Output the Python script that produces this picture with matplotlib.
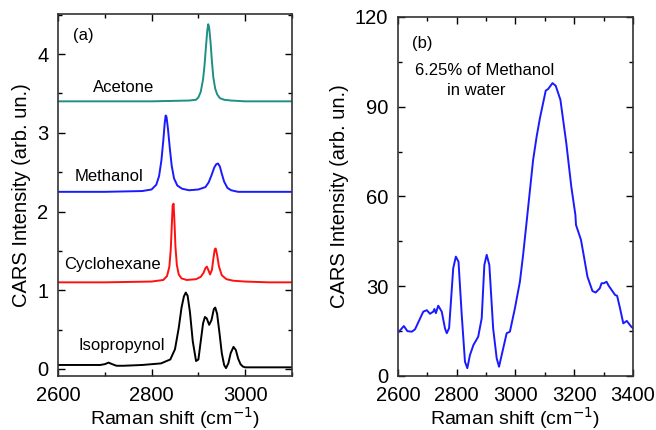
import numpy as np
import matplotlib.pyplot as plt
from matplotlib.ticker import MultipleLocator

plt.rcParams['font.family'] = ['Liberation Sans', 'DejaVu Sans']

# panel (a): CARS spectra of pure liquids
acetone_x = [2600, 2700, 2800, 2880, 2895, 2900, 2905, 2910, 2913, 2916, 2919, 2921, 2923,
             2926, 2929, 2932, 2936, 2940, 2946, 2955, 2970, 3000, 3050, 3100]
acetone_y = [3.40, 3.40, 3.40, 3.41, 3.42, 3.45, 3.52, 3.68, 3.85, 4.08, 4.30, 4.38, 4.34,
             4.15, 3.90, 3.70, 3.56, 3.49, 3.44, 3.42, 3.41, 3.40, 3.40, 3.40]

methanol_x = [2600, 2700, 2780, 2800, 2810, 2816, 2821, 2825, 2828, 2830, 2832, 2835, 2839,
              2843, 2848, 2855, 2865, 2880, 2900, 2915, 2922, 2928, 2934, 2938, 2942, 2946,
              2950, 2955, 2962, 2970, 2985, 3000, 3050, 3100]
methanol_y = [2.25, 2.25, 2.26, 2.28, 2.34, 2.45, 2.65, 2.90, 3.12, 3.22, 3.20, 3.05, 2.80,
              2.58, 2.42, 2.33, 2.29, 2.27, 2.28, 2.31, 2.37, 2.46, 2.56, 2.60, 2.61, 2.57,
              2.48, 2.38, 2.30, 2.27, 2.25, 2.25, 2.25, 2.25]

cyclo_x = [2600, 2700, 2800, 2825, 2833, 2838, 2841, 2843, 2845, 2847, 2849, 2851, 2854,
           2858, 2864, 2875, 2895, 2905, 2911, 2915, 2918, 2921, 2925, 2929, 2932, 2935,
           2937, 2940, 2944, 2950, 2960, 2975, 3000, 3050, 3100]
cyclo_y = [1.10, 1.10, 1.11, 1.13, 1.18, 1.30, 1.52, 1.80, 2.08, 2.10, 1.85, 1.55, 1.32,
           1.20, 1.15, 1.13, 1.14, 1.17, 1.22, 1.28, 1.30, 1.26, 1.20, 1.26, 1.40, 1.52,
           1.53, 1.45, 1.30, 1.19, 1.14, 1.12, 1.11, 1.10, 1.10]

iso_x = [2600, 2650, 2690, 2700, 2708, 2716, 2725, 2740, 2780, 2820, 2840, 2850, 2858,
         2864, 2869, 2873, 2877, 2882, 2888, 2895, 2900, 2905, 2910, 2914, 2918, 2923,
         2928, 2933, 2936, 2940, 2945, 2950, 2955, 2959, 2964, 2969, 2975, 2980, 2985,
         2990, 2995, 3000, 3020, 3050, 3100]
iso_y = [0.05, 0.05, 0.05, 0.06, 0.08, 0.06, 0.04, 0.04, 0.05, 0.07, 0.12, 0.25, 0.52,
         0.78, 0.92, 0.97, 0.93, 0.72, 0.35, 0.10, 0.12, 0.35, 0.58, 0.66, 0.64, 0.56,
         0.62, 0.76, 0.78, 0.70, 0.46, 0.20, 0.05, 0.01, 0.07, 0.20, 0.28, 0.24, 0.13,
         0.06, 0.03, 0.02, 0.02, 0.02, 0.02]

# panel (b): 6.25% methanol in water
mix_x = [2603, 2620, 2632, 2647, 2658, 2686, 2698, 2709, 2720, 2724, 2729, 2737, 2749,
         2760, 2766, 2774, 2788, 2797, 2806, 2817, 2828, 2836, 2845, 2857, 2873, 2885,
         2894, 2902, 2911, 2924, 2936, 2944, 2953, 2970, 2981, 2998, 3015, 3026, 3038,
         3041, 3060, 3072, 3083, 3103, 3111, 3126, 3137, 3153, 3173, 3190, 3204, 3206,
         3223, 3234, 3245, 3262, 3273, 3287, 3293, 3301, 3310, 3317, 3339, 3346, 3356,
         3367, 3379, 3394, 3400]
mix_y = [14.8, 16.7, 15.0, 14.8, 15.6, 21.5, 22.0, 20.8, 21.5, 22.4, 21.0, 23.5, 21.5,
         15.9, 14.3, 16.0, 36.0, 39.9, 38.2, 20.4, 4.8, 2.6, 7.0, 10.4, 13.1, 19.3,
         37.1, 40.5, 37.1, 15.9, 5.9, 3.1, 7.0, 14.3, 14.8, 22.6, 31.5, 40.5, 51.6,
         54.4, 72.2, 80.0, 86.1, 95.4, 95.9, 97.9, 97.0, 92.3, 77.8, 63.3, 53.8, 50.5,
         45.5, 39.4, 33.2, 28.4, 27.9, 29.3, 31.0, 31.0, 31.5, 30.2, 27.1, 26.8, 22.6,
         17.6, 18.4, 16.5, 16.0]

fig = plt.figure(figsize=(6.56, 4.3), dpi=100)
ax1 = fig.add_axes([0.0884, 0.1256, 0.3567, 0.8419])
ax2 = fig.add_axes([0.6067, 0.1256, 0.3582, 0.8349])

lw = 1.4
ax1.plot(acetone_x, acetone_y, color='#1f8f86', lw=lw)
ax1.plot(methanol_x, methanol_y, color='#1a1aff', lw=lw)
ax1.plot(cyclo_x, cyclo_y, color='#ff1010', lw=lw)
ax1.plot(iso_x, iso_y, color='black', lw=lw)
ax1.set_xlim(2600, 3100)
ax1.set_ylim(-0.09, 4.51)
ax1.xaxis.set_major_locator(MultipleLocator(200))
ax1.xaxis.set_minor_locator(MultipleLocator(100))
ax1.yaxis.set_major_locator(MultipleLocator(1))
ax1.yaxis.set_minor_locator(MultipleLocator(0.5))
fs = 12
ax1.text(2632, 4.24, '(a)', fontsize=fs, va='center')
ax1.text(2741, 3.58, 'Acetone', fontsize=fs, ha='center', va='center')
ax1.text(2708, 2.45, 'Methanol', fontsize=fs, ha='center', va='center')
ax1.text(2717, 1.33, 'Cyclohexane', fontsize=fs, ha='center', va='center')
ax1.text(2736, 0.30, 'Isopropynol', fontsize=fs, ha='center', va='center')

ax2.plot(mix_x, mix_y, color='#1a1aff', lw=lw)
ax2.set_xlim(2600, 3400)
ax2.set_ylim(0, 120)
ax2.xaxis.set_major_locator(MultipleLocator(200))
ax2.xaxis.set_minor_locator(MultipleLocator(100))
ax2.yaxis.set_major_locator(MultipleLocator(30))
ax2.yaxis.set_minor_locator(MultipleLocator(15))
ax2.text(2647, 111.3, '(b)', fontsize=fs, va='center')
ax2.text(2894, 102, '6.25% of Methanol', fontsize=fs, ha='center', va='center')
ax2.text(2865, 95.4, 'in water', fontsize=fs, ha='center', va='center')

for ax in (ax1, ax2):
    ax.tick_params(which='both', direction='in', top=True, right=True, labelsize=14.5, width=1)
    ax.tick_params(which='major', length=5)
    ax.tick_params(which='minor', length=3)
    ax.tick_params(axis='x', which='major', pad=7)
    ax.tick_params(axis='y', which='major', pad=7)
    for s in ax.spines.values():
        s.set_linewidth(1.2)
        s.set_color('#333333')
    ax.set_xlabel('Raman shift (cm$^{-1}$)', fontsize=14, labelpad=0)
    ax.set_ylabel('CARS Intensity (arb. un.)', fontsize=14.5, labelpad=4)

fig.savefig('out.png', dpi=100)
